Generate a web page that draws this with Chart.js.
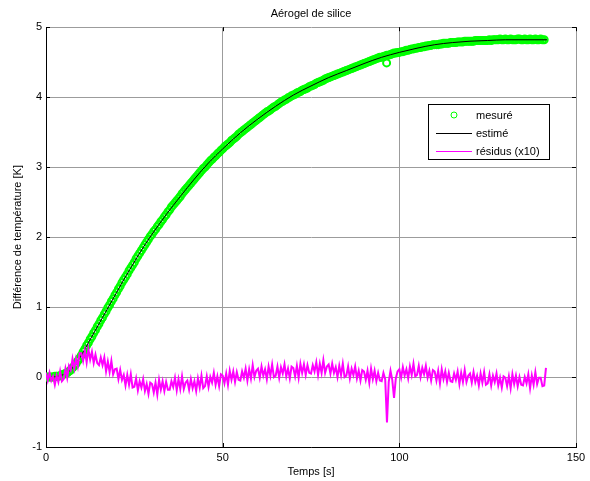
<!DOCTYPE html>
<html>
<head>
<meta charset="utf-8">
<title>Aérogel de silice</title>
<script src="https://cdn.jsdelivr.net/npm/chart.js@4.4.1/dist/chart.umd.min.js"></script>
<style>
  html, body { margin: 0; padding: 0; background: #fff; }
  canvas { display: block; }
</style>
</head>
<body>
<canvas id="chart" width="590" height="481"></canvas>
<script>
// Labels
const chartTitle = 'Aérogel de silice';
const xTitle = 'Temps [s]';
const yTitle = 'Différence de température [K]';
const seriesNames = ['mesuré', 'estimé', 'résidus (x10)'];
const xTicks = [0, 50, 100, 150];
const yTicks = [-1, 0, 1, 2, 3, 4, 5];

// Measured temperature difference, one sample every 0.5 s starting at t = 0
const measStep = 0.5;
const measValues = [
    0, 0, 0, 0, 0, 0.01, 0.01, 0.01, 0.02, 0.03,
    0.04, 0.05, 0.06, 0.08, 0.1, 0.13, 0.16, 0.19, 0.23, 0.27,
    0.31, 0.36, 0.4, 0.45, 0.49, 0.54, 0.58, 0.63, 0.67, 0.72,
    0.76, 0.81, 0.85, 0.9, 0.94, 0.99, 1.03, 1.08, 1.12, 1.17,
    1.21, 1.26, 1.3, 1.35, 1.39, 1.43, 1.47, 1.52, 1.56, 1.6,
    1.64, 1.69, 1.73, 1.77, 1.81, 1.85, 1.89, 1.93, 1.97, 2.01,
    2.04, 2.08, 2.11, 2.15, 2.18, 2.22, 2.25, 2.29, 2.32, 2.36,
    2.39, 2.43, 2.46, 2.49, 2.52, 2.55, 2.58, 2.62, 2.65, 2.68,
    2.71, 2.74, 2.77, 2.8, 2.83, 2.86, 2.89, 2.92, 2.95, 2.98,
    3.0, 3.03, 3.06, 3.09, 3.11, 3.14, 3.16, 3.19, 3.21, 3.24,
    3.26, 3.29, 3.31, 3.33, 3.35, 3.38, 3.4, 3.42, 3.44, 3.47,
    3.49, 3.51, 3.53, 3.55, 3.57, 3.59, 3.61, 3.63, 3.65, 3.67,
    3.69, 3.71, 3.73, 3.75, 3.77, 3.79, 3.8, 3.82, 3.84, 3.86,
    3.87, 3.89, 3.91, 3.93, 3.94, 3.96, 3.97, 3.99, 4.0, 4.02,
    4.03, 4.04, 4.06, 4.07, 4.08, 4.1, 4.11, 4.12, 4.13, 4.15,
    4.16, 4.17, 4.18, 4.2, 4.21, 4.22, 4.23, 4.24, 4.26, 4.27,
    4.28, 4.29, 4.3, 4.31, 4.32, 4.33, 4.34, 4.35, 4.36, 4.37,
    4.38, 4.39, 4.4, 4.41, 4.42, 4.43, 4.44, 4.45, 4.46, 4.47,
    4.48, 4.49, 4.5, 4.51, 4.52, 4.53, 4.54, 4.55, 4.56, 4.57,
    4.57, 4.58, 4.59, 4.6, 4.6, 4.61, 4.62, 4.63, 4.63, 4.64,
    4.64, 4.65, 4.65, 4.66, 4.67, 4.67, 4.68, 4.69, 4.69, 4.7,
    4.7, 4.71, 4.71, 4.72, 4.72, 4.73, 4.73, 4.74, 4.74, 4.75,
    4.75, 4.75, 4.75, 4.76, 4.76, 4.77, 4.77, 4.77, 4.77, 4.78,
    4.78, 4.78, 4.78, 4.79, 4.79, 4.79, 4.79, 4.8, 4.8, 4.8,
    4.8, 4.8, 4.8, 4.81, 4.81, 4.81, 4.81, 4.81, 4.81, 4.81,
    4.81, 4.82, 4.81, 4.82, 4.82, 4.82, 4.82, 4.83, 4.82, 4.82,
    4.83, 4.82, 4.82, 4.83, 4.82, 4.82, 4.82, 4.83, 4.83, 4.82,
    4.82, 4.83, 4.82, 4.82, 4.83, 4.82, 4.82, 4.83, 4.82, 4.82,
    4.83, 4.82, 4.82
];
// odd measured point below the curve
const outlierTime = [96.4];
const outlierValue = [4.49];

// Fitted model
const estTime = [0, 2, 4, 6, 8, 10, 12, 14, 16, 18, 20, 22, 24, 26, 28, 30, 34, 38, 42, 46,
    50, 55, 60, 65, 70, 75, 80, 85, 90, 95, 100, 105, 110, 115, 120, 125, 130, 135, 141.8];
const estValues = [0, 0, 0.02, 0.06, 0.16, 0.31, 0.49, 0.67, 0.85, 1.03, 1.21, 1.39, 1.56, 1.73, 1.89, 2.04, 2.32, 2.58, 2.83, 3.06,
    3.26, 3.49, 3.69, 3.87, 4.03, 4.16, 4.28, 4.38, 4.48, 4.57, 4.64, 4.7, 4.75, 4.78, 4.8, 4.81, 4.82, 4.82, 4.82];

// Residuals (x10), one sample every 0.5 s starting at t = 0
const resStep = 0.5;
const resValues = [
    0.06, -0.05, 0.06, -0.05, 0.01, -0.11, 0.02, -0.07, 0.08, -0.06,
    -0.03, 0.12, -0.01, 0.16, 0.1, 0.26, 0.12, 0.26, 0.15, 0.34,
    0.34, 0.23, 0.38, 0.21, 0.4, 0.25, 0.36, 0.2, 0.32, 0.2,
    0.17, 0.28, 0.17, 0.28, 0.08, 0.22, 0.07, 0.23, 0.04, 0.11,
    0.12, -0.03, 0.1, -0.04, 0.03, -0.12, 0.03, -0.11, 0.04, -0.15,
    -0.14, -0.02, -0.19, -0.06, -0.15, -0.03, -0.2, -0.1, -0.24, -0.08,
    -0.1, -0.22, -0.08, -0.25, -0.04, -0.18, -0.06, -0.2, -0.07, -0.18,
    -0.18, -0.06, -0.14, -0.01, -0.19, -0.03, -0.17, 0.01, -0.17, -0.08,
    -0.05, -0.18, -0.03, -0.16, -0.06, -0.2, -0.02, -0.15, 0.02, -0.16,
    -0.13, 0.01, -0.14, 0.0, -0.08, 0.06, -0.11, 0.01, -0.13, 0.04,
    0.02, -0.09, 0.05, -0.11, 0.09, -0.04, 0.08, -0.07, 0.07, -0.04,
    -0.05, 0.08, -0.01, 0.12, -0.05, 0.11, -0.02, 0.17, 0.0, 0.09,
    0.12, -0.01, 0.15, 0.02, 0.11, -0.03, 0.15, 0.02, 0.18, 0.0,
    0.02, 0.15, -0.01, 0.14, 0.05, 0.18, 0.01, 0.12, -0.02, 0.15,
    0.13, 0.01, 0.16, -0.01, 0.19, 0.06, 0.18, 0.03, 0.17, 0.06,
    0.05, 0.17, 0.08, 0.21, 0.03, 0.19, 0.06, 0.24, 0.06, 0.15,
    0.18, 0.05, 0.19, 0.06, 0.14, 0.0, 0.16, 0.03, 0.19, 0.0,
    0.02, 0.15, -0.02, 0.12, 0.03, 0.15, -0.02, 0.09, -0.05, 0.1,
    0.08, -0.04, 0.09, -0.08, 0.12, -0.03, 0.09, -0.06, 0.06, -0.05,
    -0.06, 0.06, -0.03, -0.65, -0.07, 0.09, -0.04, -0.3, -0.02, 0.08,
    0.11, -0.01, 0.14, 0.02, 0.11, -0.02, 0.15, 0.03, 0.19, 0.01,
    0.03, 0.16, 0.0, 0.13, 0.04, 0.16, -0.01, 0.09, -0.05, 0.1,
    0.08, -0.05, 0.09, -0.09, 0.11, -0.03, 0.08, -0.07, 0.06, -0.06,
    -0.07, 0.05, -0.04, 0.08, -0.1, 0.06, -0.07, 0.1, -0.07, 0.02,
    0.05, -0.08, 0.07, -0.07, 0.02, -0.12, 0.05, -0.08, 0.07, -0.11,
    -0.09, 0.04, -0.12, 0.02, -0.07, 0.05, -0.12, -0.01, -0.15, 0.01,
    -0.01, -0.13, 0.01, -0.16, 0.04, -0.1, 0.02, -0.13, 0.0, -0.11,
    -0.12, 0.0, -0.09, 0.04, -0.16, 0.02, -0.11, 0.07, -0.1, -0.01,
    -0.01, -0.13, -0.12, 0.13
];

// Build point tables for the library
const measPoints = measValues.map((v, i) => ({ x: i * measStep, y: v }));
outlierTime.forEach((t, i) => measPoints.push({ x: t, y: outlierValue[i] }));
const estPoints = estTime.map((t, i) => ({ x: t, y: estValues[i] }));
const resPoints = resValues.map((v, i) => ({ x: i * resStep, y: v }));

const FONT = "'Liberation Sans', Arial, Helvetica, sans-serif";
const GRID = '#9c9c9c';

// MATLAB style tick marks on all four sides of the box
const boxTicks = {
    id: 'boxTicks',
    beforeDatasetsDraw(chart) {
        const { ctx, chartArea: a, scales: { x, y } } = chart;
        ctx.save();
        ctx.strokeStyle = '#000';
        ctx.lineWidth = 1;
        ctx.beginPath();
        xTicks.forEach(v => {
            const px = Math.round(x.getPixelForValue(v)) + 0.5;
            ctx.moveTo(px, a.bottom); ctx.lineTo(px, a.bottom - 4);
            ctx.moveTo(px, a.top); ctx.lineTo(px, a.top + 4);
        });
        yTicks.forEach(v => {
            const py = Math.round(y.getPixelForValue(v)) + 0.5;
            ctx.moveTo(a.left, py); ctx.lineTo(a.left + 4, py);
            ctx.moveTo(a.right, py); ctx.lineTo(a.right - 4, py);
        });
        ctx.stroke();
        ctx.restore();
    }
};

// Legend box inside the axes, upper right
const boxLegend = {
    id: 'boxLegend',
    afterDraw(chart) {
        const ctx = chart.ctx;
        const bx = 428.5, by = 104.5, bw = 121, bh = 55;
        const rows = [115, 133, 151];
        ctx.save();
        ctx.fillStyle = '#fff';
        ctx.fillRect(bx, by, bw, bh);
        ctx.strokeStyle = '#000';
        ctx.lineWidth = 1;
        ctx.strokeRect(bx, by, bw, bh);
        chart.data.datasets.forEach((ds, i) => {
            const yy = rows[i];
            if (ds.showLine) {
                ctx.strokeStyle = ds.borderColor;
                ctx.lineWidth = 1;
                ctx.beginPath();
                ctx.moveTo(436, yy + 0.5);
                ctx.lineTo(472, yy + 0.5);
                ctx.stroke();
            } else {
                ctx.strokeStyle = ds.pointBorderColor;
                ctx.lineWidth = 1;
                ctx.beginPath();
                ctx.arc(454, yy, 3, 0, Math.PI * 2);
                ctx.stroke();
            }
            ctx.fillStyle = '#000';
            ctx.font = '11px ' + FONT;
            ctx.textBaseline = 'middle';
            ctx.textAlign = 'left';
            ctx.fillText(ds.label, 476, yy + 1);
        });
        ctx.restore();
    }
};

new Chart(document.getElementById('chart'), {
    type: 'scatter',
    data: {
        datasets: [
            {
                label: seriesNames[0],
                data: measPoints,
                showLine: false,
                pointStyle: 'circle',
                pointRadius: 3.5,
                pointBorderWidth: 2,
                pointBorderColor: '#00ff00',
                pointBackgroundColor: 'rgba(0,0,0,0)',
                order: 2
            },
            {
                label: seriesNames[1],
                data: estPoints,
                showLine: true,
                borderColor: '#000',
                borderWidth: 1,
                pointRadius: 0,
                cubicInterpolationMode: 'monotone',
                order: 1
            },
            {
                label: seriesNames[2],
                data: resPoints,
                showLine: true,
                borderColor: '#ff00ff',
                borderWidth: 2,
                pointRadius: 0,
                tension: 0,
                order: 0
            }
        ]
    },
    options: {
        responsive: false,
        animation: false,
        layout: { padding: { left: 0, right: 14, top: 0, bottom: 0 } },
        plugins: {
            legend: { display: false },
            tooltip: { enabled: false },
            title: {
                display: true,
                text: chartTitle,
                fullSize: false,
                color: '#000',
                font: { family: FONT, size: 11, weight: 'normal' },
                padding: { top: 7, bottom: 7 }
            }
        },
        scales: {
            x: {
                type: 'linear',
                min: 0,
                max: 150,
                afterBuildTicks: s => { s.ticks = xTicks.map(v => ({ value: v })); },
                afterFit: s => { s.height = 34; },
                grid: { color: GRID, lineWidth: 1, drawTicks: false },
                border: { color: '#000', width: 1 },
                ticks: { color: '#000', padding: 4, maxRotation: 0, font: { family: FONT, size: 11 } },
                title: { display: true, text: xTitle, color: '#000', padding: { top: 0, bottom: 2 }, font: { family: FONT, size: 11 } }
            },
            y: {
                type: 'linear',
                min: -1,
                max: 5,
                afterBuildTicks: s => { s.ticks = yTicks.map(v => ({ value: v })); },
                afterFit: s => { s.width = 46; },
                grid: { color: GRID, lineWidth: 1, drawTicks: false },
                border: { color: '#000', width: 1 },
                ticks: { color: '#000', padding: 4, font: { family: FONT, size: 11 } },
                title: { display: true, text: yTitle, color: '#000', padding: { top: 11, bottom: 0 }, font: { family: FONT, size: 11 } }
            }
        }
    },
    plugins: [boxTicks, boxLegend]
});
</script>
</body>
</html>
